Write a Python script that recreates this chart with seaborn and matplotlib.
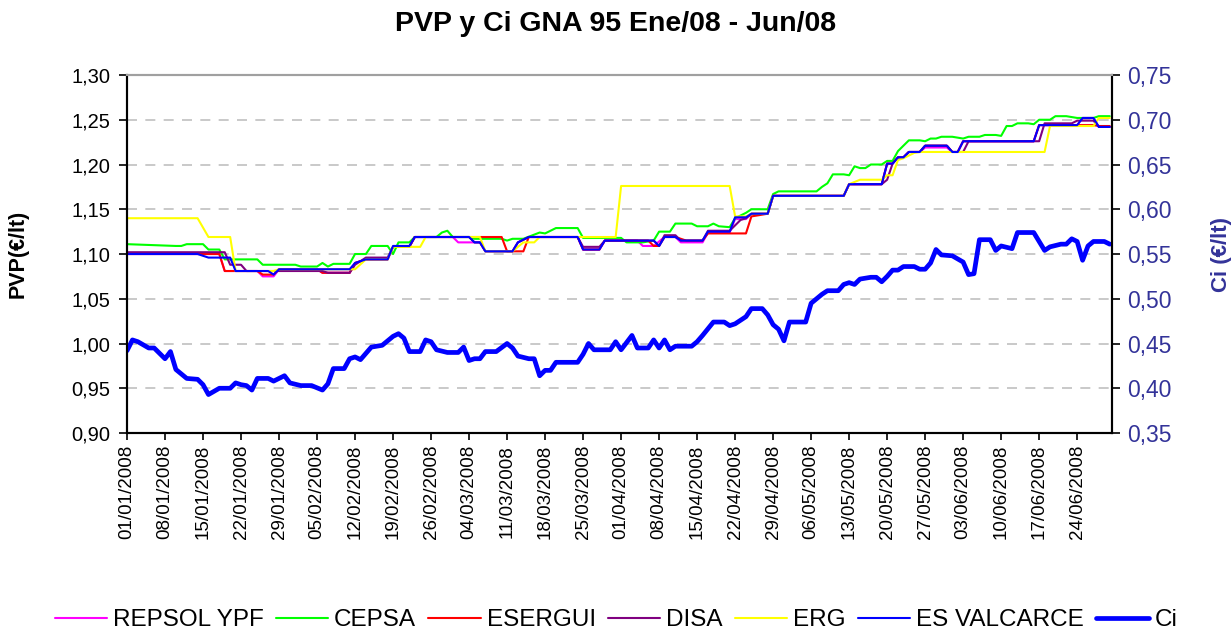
import numpy as np
import pandas as pd
import seaborn as sns
import matplotlib.pyplot as plt
import matplotlib.dates as mdates
from matplotlib.ticker import FuncFormatter

# days counted from 01/01/2008
repsol_day = [0, 17, 18, 24, 25, 27, 28, 35, 36, 41, 42, 44, 48, 49, 52, 53, 60, 61, 65, 66, 71, 72, 74, 83, 84, 87, 88,
              94, 95, 97, 99, 101, 102, 106, 107, 111, 112, 114, 115, 118, 119, 132, 133, 139, 140, 141, 142, 143, 144,
              146, 147, 151, 152, 153, 154, 167, 168, 175, 176, 178, 179, 181]
repsol_val = [1.100, 1.100, 1.081, 1.081, 1.075, 1.075, 1.083, 1.083, 1.079, 1.079, 1.090, 1.094, 1.094, 1.108, 1.108,
              1.119, 1.119, 1.113, 1.113, 1.103, 1.103, 1.113, 1.119, 1.119, 1.105, 1.105, 1.115, 1.115, 1.109, 1.109,
              1.119, 1.119, 1.113, 1.113, 1.124, 1.124, 1.139, 1.139, 1.145, 1.145, 1.165, 1.165, 1.178, 1.178, 1.201,
              1.201, 1.208, 1.208, 1.214, 1.214, 1.219, 1.219, 1.214, 1.214, 1.226, 1.226, 1.244, 1.244, 1.252, 1.252,
              1.242, 1.242]

cepsa_day = [0, 9, 10, 11, 14, 15, 17, 18, 24, 25, 31, 32, 35, 36, 37, 38, 41, 42, 44, 45, 48, 49, 50, 52, 53, 57, 58,
             59, 60, 63, 64, 69, 70, 71, 73, 76, 77, 79, 83, 84, 91, 92, 95, 97, 98, 100, 101, 104, 105, 107, 108, 109,
             111, 112, 114, 115, 118, 119, 120, 127, 128, 129, 130, 132, 133, 134, 135, 136, 137, 139, 140, 141, 142,
             144, 146, 147, 148, 149, 150, 152, 154, 155, 157, 158, 160, 161, 162, 163, 164, 166, 167, 168, 170, 171,
             173, 175, 178, 179, 181]
cepsa_val = [1.111, 1.109, 1.109, 1.111, 1.111, 1.105, 1.105, 1.094, 1.094, 1.088, 1.088, 1.086, 1.086, 1.090, 1.086,
             1.089, 1.089, 1.100, 1.100, 1.109, 1.109, 1.100, 1.113, 1.113, 1.119, 1.119, 1.124, 1.126, 1.119, 1.119,
             1.117, 1.117, 1.115, 1.117, 1.117, 1.124, 1.123, 1.129, 1.129, 1.118, 1.118, 1.113, 1.113, 1.115, 1.125,
             1.125, 1.134, 1.134, 1.131, 1.131, 1.134, 1.131, 1.130, 1.140, 1.146, 1.150, 1.150, 1.167, 1.170, 1.170,
             1.175, 1.179, 1.189, 1.189, 1.188, 1.198, 1.196, 1.196, 1.200, 1.200, 1.204, 1.204, 1.215, 1.227, 1.227,
             1.226, 1.229, 1.229, 1.231, 1.231, 1.229, 1.231, 1.231, 1.233, 1.233, 1.232, 1.243, 1.243, 1.246, 1.246,
             1.245, 1.250, 1.250, 1.254, 1.254, 1.252, 1.252, 1.254, 1.254]

esergui_day = [0, 17, 18, 24, 25, 27, 28, 35, 36, 41, 42, 44, 48, 49, 52, 53, 69, 70, 73, 74, 83, 84, 87, 88, 96, 97,
               98, 99, 101, 103, 106, 107, 114, 115, 118, 119, 132, 133, 139, 140, 141, 142, 143, 144, 146, 147, 151,
               152, 153, 154, 167, 168, 178, 179, 181]
esergui_val = [1.100, 1.100, 1.081, 1.081, 1.077, 1.077, 1.083, 1.083, 1.079, 1.079, 1.090, 1.094, 1.094, 1.108, 1.108,
               1.119, 1.119, 1.103, 1.103, 1.119, 1.119, 1.105, 1.105, 1.115, 1.115, 1.109, 1.109, 1.119, 1.119, 1.115,
               1.115, 1.123, 1.123, 1.142, 1.145, 1.165, 1.165, 1.178, 1.178, 1.201, 1.201, 1.208, 1.208, 1.214, 1.214,
               1.221, 1.221, 1.214, 1.214, 1.226, 1.226, 1.244, 1.244, 1.243, 1.243]

disa_day = [0, 18, 19, 21, 22, 36, 37, 41, 42, 44, 48, 49, 52, 53, 63, 64, 65, 66, 71, 72, 74, 83, 84, 87, 88, 97, 98,
            99, 101, 102, 106, 107, 111, 113, 114, 115, 118, 119, 132, 133, 139, 140, 141, 142, 143, 144, 146, 147,
            151, 152, 154, 155, 168, 169, 174, 175, 178, 179, 181]
disa_val = [1.102, 1.102, 1.088, 1.088, 1.081, 1.081, 1.079, 1.079, 1.088, 1.096, 1.096, 1.108, 1.108, 1.119, 1.119,
            1.113, 1.113, 1.103, 1.103, 1.113, 1.119, 1.119, 1.108, 1.108, 1.115, 1.115, 1.109, 1.121, 1.121, 1.115,
            1.115, 1.126, 1.126, 1.138, 1.140, 1.145, 1.145, 1.165, 1.165, 1.178, 1.178, 1.183, 1.201, 1.208, 1.208,
            1.214, 1.214, 1.221, 1.221, 1.214, 1.214, 1.226, 1.226, 1.246, 1.246, 1.249, 1.249, 1.242, 1.242]

erg_day = [0, 13, 15, 19, 20, 27, 28, 42, 44, 48, 49, 54, 55, 65, 66, 71, 73, 75, 76, 90, 91, 111, 112, 114, 115, 118,
           119, 132, 133, 135, 139, 140, 141, 142, 143, 145, 146, 169, 170, 178, 179, 181]
erg_val = [1.140, 1.140, 1.119, 1.119, 1.081, 1.081, 1.083, 1.083, 1.094, 1.094, 1.108, 1.108, 1.119, 1.119, 1.103,
           1.103, 1.113, 1.113, 1.119, 1.119, 1.176, 1.176, 1.142, 1.142, 1.145, 1.145, 1.165, 1.165, 1.178, 1.183,
           1.183, 1.188, 1.188, 1.205, 1.207, 1.213, 1.214, 1.214, 1.243, 1.243, 1.252, 1.252]

valcarce_day = [0, 13, 15, 19, 20, 26, 27, 28, 41, 42, 44, 48, 49, 52, 53, 63, 64, 65, 66, 71, 72, 74, 83, 84, 87, 88,
                97, 98, 99, 101, 102, 106, 107, 111, 112, 114, 115, 118, 119, 132, 133, 139, 140, 141, 142, 143, 144,
                146, 147, 151, 152, 153, 154, 167, 168, 175, 176, 178, 179, 181]
valcarce_val = [1.100, 1.100, 1.096, 1.096, 1.081, 1.081, 1.077, 1.083, 1.083, 1.090, 1.094, 1.094, 1.109, 1.109,
                1.119, 1.119, 1.113, 1.113, 1.103, 1.103, 1.113, 1.119, 1.119, 1.105, 1.105, 1.115, 1.115, 1.109,
                1.119, 1.119, 1.115, 1.115, 1.125, 1.125, 1.141, 1.141, 1.145, 1.145, 1.165, 1.165, 1.178, 1.178,
                1.201, 1.201, 1.208, 1.208, 1.214, 1.214, 1.221, 1.221, 1.214, 1.214, 1.226, 1.226, 1.244, 1.244,
                1.252, 1.252, 1.242, 1.242]

ci_day = [0, 1, 2, 4, 5, 7, 8, 9, 11, 13, 14, 15, 17, 19, 20, 21, 22, 23, 24, 26, 27, 29, 30, 32, 34, 36, 37, 38, 40,
          41, 42, 43, 45, 47, 49, 50, 51, 52, 54, 55, 56, 57, 59, 61, 62, 63, 64, 65, 66, 68, 70, 71, 72, 74, 75, 76,
          77, 78, 79, 83, 84, 85, 86, 89, 90, 91, 92, 93, 94, 96, 97, 98, 99, 100, 101, 104, 105, 106, 108, 110, 111,
          112, 114, 115, 117, 118, 119, 120, 121, 122, 125, 126, 128, 129, 131, 132, 133, 134, 135, 137, 138, 139, 140,
          141, 142, 143, 145, 146, 147, 148, 149, 150, 152, 154, 155, 156, 157, 159, 160, 161, 163, 164, 167, 169, 170,
          172, 173, 174, 175, 176, 177, 178, 180, 181]
ci_val = [0.442, 0.454, 0.452, 0.445, 0.445, 0.433, 0.441, 0.421, 0.411, 0.410, 0.404, 0.393, 0.400, 0.400, 0.406,
          0.404, 0.403, 0.398, 0.411, 0.411, 0.408, 0.414, 0.406, 0.403, 0.403, 0.398, 0.405, 0.422, 0.422, 0.433,
          0.435, 0.432, 0.446, 0.448, 0.458, 0.461, 0.456, 0.441, 0.441, 0.454, 0.452, 0.443, 0.440, 0.440, 0.446,
          0.431, 0.433, 0.433, 0.441, 0.441, 0.450, 0.445, 0.436, 0.433, 0.433, 0.414, 0.420, 0.420, 0.429, 0.429,
          0.438, 0.450, 0.443, 0.443, 0.452, 0.443, 0.451, 0.459, 0.445, 0.445, 0.454, 0.445, 0.454, 0.443, 0.447,
          0.447, 0.452, 0.459, 0.474, 0.474, 0.470, 0.472, 0.480, 0.489, 0.489, 0.482, 0.471, 0.466, 0.453, 0.474,
          0.474, 0.495, 0.505, 0.509, 0.509, 0.516, 0.518, 0.516, 0.522, 0.524, 0.524, 0.519, 0.525, 0.532, 0.532,
          0.536, 0.536, 0.533, 0.533, 0.540, 0.555, 0.549, 0.548, 0.541, 0.527, 0.528, 0.566, 0.566, 0.554, 0.559,
          0.556, 0.574, 0.574, 0.554, 0.558, 0.561, 0.561, 0.567, 0.564, 0.543, 0.559, 0.564, 0.564, 0.561]

series = [
    ("REPSOL YPF", repsol_day, repsol_val, "#FF00FF"),
    ("CEPSA", cepsa_day, cepsa_val, "#00FF00"),
    ("ESERGUI", esergui_day, esergui_val, "#FF0000"),
    ("DISA", disa_day, disa_val, "#800080"),
    ("ERG", erg_day, erg_val, "#FFFF00"),
    ("ES VALCARCE", valcarce_day, valcarce_val, "#0000FF"),
]

start = pd.Timestamp("2008-01-01")


def to_frame(days, vals):
    return pd.DataFrame({"fecha": start + pd.to_timedelta(days, unit="D"), "valor": vals})


sns.set_style("white")
plt.rcParams["font.family"] = ["Liberation Sans", "DejaVu Sans"]
plt.rcParams.update({"text.color": "black", "axes.labelcolor": "black",
                     "xtick.color": "black", "ytick.color": "black"})

fig, ax = plt.subplots(figsize=(12.32, 6.34), dpi=100)
fig.subplots_adjust(left=0.1031, right=0.9026, top=0.8817, bottom=0.317)
ax2 = ax.twinx()

for name, days, vals, col in series:
    sns.lineplot(data=to_frame(days, vals), x="fecha", y="valor", color=col, lw=1.5, ax=ax, label=name, legend=False)

sns.lineplot(data=to_frame(ci_day, ci_val), x="fecha", y="valor", color="#0000FF", lw=3.4, ax=ax2, label="Ci",
             legend=False)

fmt = FuncFormatter(lambda v, p: f"{v:.2f}".replace(".", ","))

ax.set_ylim(0.90, 1.30)
ax.set_yticks(np.arange(0.90, 1.301, 0.05))
ax.yaxis.set_major_formatter(fmt)
ax2.set_ylim(0.35, 0.75)
ax2.set_yticks(np.arange(0.35, 0.751, 0.05))
ax2.yaxis.set_major_formatter(fmt)

for v in np.arange(0.95, 1.26, 0.05):
    ax.axhline(v, color="#C0C0C0", lw=1.2, ls=(0, (6, 5)), zorder=0)

ax.set_xlim(start, pd.Timestamp("2008-06-30 10:00"))
ax.set_xticks(pd.date_range("2008-01-01", "2008-06-24", freq="7D"))
ax.xaxis.set_major_formatter(mdates.DateFormatter("%d/%m/%Y"))
ax.tick_params(axis="x", labelrotation=90, labelsize=13.5, length=5, width=1.2, direction="out", bottom=True)
ax.tick_params(axis="y", labelsize=14.5, length=6, width=1.2, direction="out", left=True, pad=6)
ax2.tick_params(axis="y", labelsize=16.5, length=6, width=1.2, direction="out", right=True, labelcolor="#333399",
                pad=5)

ax.set_xlabel("")
ax.set_ylabel("PVP(€/lt)", fontsize=15.5, fontweight="bold")
ax.yaxis.set_label_coords(-0.1, 0.5)
ax2.set_ylabel("Ci (€/lt)", fontsize=16, fontweight="bold", color="#333399")
ax2.yaxis.set_label_coords(1.1, 0.5)

for a in (ax, ax2):
    for s in ("left", "right", "bottom"):
        a.spines[s].set_color("black")
        a.spines[s].set_linewidth(1.5)
    a.spines["top"].set_color("#A0A0A0")
    a.spines["top"].set_linewidth(1.5)

fig.suptitle("PVP y Ci GNA 95 Ene/08 - Jun/08", fontsize=20.5, fontweight="bold", y=0.962, va="center")

handles, labels = ax.get_legend_handles_labels()
h2, l2 = ax2.get_legend_handles_labels()
fig.legend(handles + h2, labels + l2, loc="center", bbox_to_anchor=(0.5, 0.022), ncol=7, frameon=False,
           fontsize=17.5, handlelength=2.15, handletextpad=0.25, columnspacing=0.5)

fig.savefig("out.png", dpi=100)
